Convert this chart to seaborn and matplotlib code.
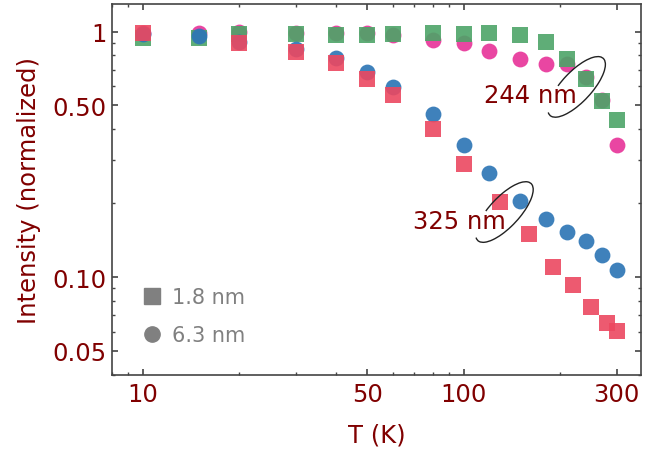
import numpy as np
import pandas as pd
import matplotlib
matplotlib.use("Agg")
from matplotlib import pyplot as plt
from matplotlib import ticker
from matplotlib import transforms as mtransforms
from matplotlib.patches import Arc
from matplotlib.lines import Line2D
import seaborn as sns

# green squares: 1.8 nm, 244 nm excitation
T_18_244 = [10, 15, 20, 30, 40, 50, 60, 80, 100, 120, 150, 180, 210, 240, 270, 300]
I_18_244 = [0.945, 0.945, 0.975, 0.975, 0.969, 0.969, 0.975, 0.984, 0.975, 0.984,
            0.966, 0.907, 0.776, 0.639, 0.521, 0.435]
# magenta circles: 6.3 nm, 244 nm excitation
T_63_244 = [10, 15, 20, 30, 40, 50, 60, 80, 100, 120, 150, 180, 210, 240, 270, 300]
I_63_244 = [0.984, 0.99, 1.0, 0.984, 0.984, 0.984, 0.97, 0.924, 0.894, 0.834,
            0.771, 0.736, 0.736, 0.653, 0.526, 0.344]
# blue circles: 6.3 nm, 325 nm excitation
T_63_325 = [10, 15, 20, 30, 40, 50, 60, 80, 100, 120, 150, 180, 210, 240, 270, 300]
I_63_325 = [0.975, 0.96, 0.91, 0.847, 0.778, 0.687, 0.597, 0.463, 0.344, 0.266,
            0.204, 0.172, 0.152, 0.140, 0.123, 0.107]
# red squares: 1.8 nm, 325 nm excitation
T_18_325 = [10, 20, 30, 40, 50, 60, 80, 100, 130, 160, 190, 220, 250, 280, 300]
I_18_325 = [0.984, 0.902, 0.829, 0.747, 0.639, 0.55, 0.40, 0.290, 0.202, 0.150,
            0.110, 0.0924, 0.0755, 0.0647, 0.0601]

x_ticks = [10, 50, 100, 300]
x_ticklabels = ["10", "50", "100", "300"]
y_ticks = [0.05, 0.1, 0.5, 1]
y_ticklabels = ["0.05", "0.10", "0.50", "1"]
legend_labels = ["1.8 nm", "6.3 nm"]

dark_red = "#800000"
spine_col = "#444444"

sns.set_style("ticks")
plt.rcParams["font.family"] = ["DejaVu Sans"]

fig = plt.figure(figsize=(6.54, 4.56), dpi=100)
ax = fig.add_axes([0.171, 0.176, 0.809, 0.814])

ms = 130
sns.scatterplot(x=T_63_244, y=I_63_244, marker="o", s=ms, color="#e8369a", alpha=0.92,
                linewidth=0, ax=ax)
sns.scatterplot(x=T_18_244, y=I_18_244, marker="s", s=ms, color="#4da468", alpha=0.9,
                linewidth=0, ax=ax)
sns.scatterplot(x=T_63_325, y=I_63_325, marker="o", s=ms, color="#2e76b6", alpha=0.92,
                linewidth=0, ax=ax)
sns.scatterplot(x=T_18_325, y=I_18_325, marker="s", s=ms, color="#ec4860", alpha=0.9,
                linewidth=0, ax=ax)

ax.set_xscale("log")
ax.set_yscale("log")
ax.set_xlim(8, 357)
ax.set_ylim(0.04, 1.3)

ax.xaxis.set_major_locator(ticker.FixedLocator(x_ticks))
ax.xaxis.set_major_formatter(ticker.FixedFormatter(x_ticklabels))
ax.xaxis.set_minor_locator(ticker.LogLocator(base=10, subs=np.arange(2, 10)))
ax.xaxis.set_minor_formatter(ticker.NullFormatter())
ax.yaxis.set_major_locator(ticker.FixedLocator(y_ticks))
ax.yaxis.set_major_formatter(ticker.FixedFormatter(y_ticklabels))
ax.yaxis.set_minor_locator(ticker.LogLocator(base=10, subs=np.arange(2, 10)))
ax.yaxis.set_minor_formatter(ticker.NullFormatter())

ax.tick_params(which="both", direction="in", top=True, right=True, color=spine_col,
               labelcolor=dark_red, labelsize=17.5)
ax.tick_params(which="major", length=4, width=1.2)
ax.tick_params(which="minor", length=2.2, width=1.0)
ax.tick_params(axis="x", pad=5)
ax.tick_params(axis="y", pad=4)
for sp in ax.spines.values():
    sp.set_color(spine_col)
    sp.set_linewidth(1.2)

ax.set_xlabel("T (K)", color=dark_red, fontsize=17.5, labelpad=12)
ax.set_ylabel("Intensity (normalized)", color=dark_red, fontsize=17.5, labelpad=8)

# annotations with open ellipses
ax.text(162, 0.55, "244 nm", color=dark_red, fontsize=17.5, ha="center", va="center")
ax.text(96.7, 0.1686, "325 nm", color=dark_red, fontsize=17.5, ha="center", va="center")
for cx, cy in [(225, 0.595), (134, 0.184)]:
    trans = fig.dpi_scale_trans + mtransforms.ScaledTranslation(cx, cy, ax.transData)
    ax.add_patch(Arc((0, 0), 0.78, 0.30, angle=47, theta1=175, theta2=490,
                     transform=trans, color="#222222", lw=1.0))

handles = [Line2D([], [], marker="s", ls="", color="#808080", markersize=11),
           Line2D([], [], marker="o", ls="", color="#808080", markersize=11)]
leg = ax.legend(handles, legend_labels, loc="lower left", bbox_to_anchor=(0.02, 0.03),
                frameon=False, fontsize=15, handletextpad=0.5, labelspacing=0.85,
                handlelength=1.0)
for t in leg.get_texts():
    t.set_color("#808080")

fig.savefig("out.png", dpi=100)
